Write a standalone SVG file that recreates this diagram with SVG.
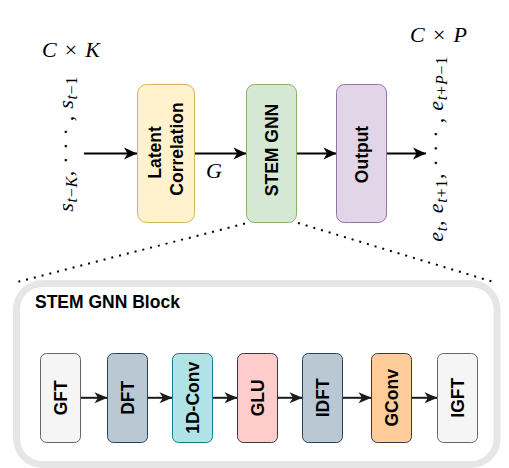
<svg xmlns="http://www.w3.org/2000/svg" width="509" height="468" viewBox="0 0 509 468">
<defs>
<style>
.lbl{font-family:"Liberation Sans",Arial,sans-serif;font-weight:bold;font-size:17.5px;text-anchor:middle;fill:#000}
.math{font-family:"Liberation Serif","Times New Roman",serif;font-size:22px;fill:#000}
.it{font-style:italic}
.sub{font-size:16px}
.arr{stroke:#000;stroke-width:2;fill:none}
.arrb{stroke:#1a1a1a;stroke-width:2;fill:none}
.dot{stroke:#000;stroke-width:2;stroke-dasharray:2 6;fill:none}
</style>
<marker id="ah" markerUnits="userSpaceOnUse" markerWidth="15" markerHeight="13" viewBox="0 0 15 13" refX="14" refY="6.5" orient="auto">
<path d="M1,0.5 L14,6.5 L1,12.5 L4.5,6.5 Z" fill="#000"/>
</marker>
<marker id="ahb" markerUnits="userSpaceOnUse" markerWidth="15" markerHeight="13" viewBox="0 0 15 13" refX="14" refY="6.5" orient="auto">
<path d="M1,1 L14,6.5 L1,12 L4.5,6.5 Z" fill="#1a1a1a"/>
</marker>
</defs>

<g id="block">
<rect x="16.5" y="283.5" width="480.5" height="181" rx="26" fill="#fff" stroke="#e6e6e6" stroke-width="7"/>
<text x="35" y="308" font-family="'Liberation Sans',Arial,sans-serif" font-weight="bold" font-size="17.5">STEM GNN Block</text>
</g>

<g id="connectors">
<line class="arr" x1="84" y1="153.5" x2="137" y2="153.5" marker-end="url(#ah)"/>
<line class="arr" x1="194.5" y1="153.5" x2="246.5" y2="153.5" marker-end="url(#ah)"/>
<line class="arr" x1="296.5" y1="153.5" x2="336.5" y2="153.5" marker-end="url(#ah)"/>
<line class="arr" x1="386.5" y1="153.5" x2="426" y2="153.5" marker-end="url(#ah)"/>
<line class="dot" x1="245" y1="223.5" x2="17" y2="282"/>
<line class="dot" x1="298" y1="223" x2="497" y2="283"/>
<line class="arrb" x1="80.5" y1="397.8" x2="107.5" y2="397.8" marker-end="url(#ahb)"/>
<line class="arrb" x1="147.5" y1="397.8" x2="172.5" y2="397.8" marker-end="url(#ahb)"/>
<line class="arrb" x1="212.5" y1="397.8" x2="237.5" y2="397.8" marker-end="url(#ahb)"/>
<line class="arrb" x1="277.5" y1="397.8" x2="302.5" y2="397.8" marker-end="url(#ahb)"/>
<line class="arrb" x1="342.5" y1="397.8" x2="371.5" y2="397.8" marker-end="url(#ahb)"/>
<line class="arrb" x1="411.5" y1="397.8" x2="437.5" y2="397.8" marker-end="url(#ahb)"/>
</g>

<g id="latent">
<rect x="137.5" y="84.5" width="57" height="138" rx="9" fill="#fff2cc" stroke="#d6b656"/>
<text class="lbl" transform="translate(165.5,152.5) rotate(-90)" y="-4.5">Latent</text>
<text class="lbl" transform="translate(165.5,149) rotate(-90)" y="17">Correlation</text>
</g>
<g id="stemgnn">
<rect x="246.5" y="84.5" width="50" height="138" rx="8" fill="#d5e8d4" stroke="#82b366"/>
<text class="lbl" transform="translate(272,150) rotate(-90)" y="6.3">STEM GNN</text>
</g>
<g id="output">
<rect x="336.5" y="84.5" width="50" height="138" rx="8" fill="#e1d5e7" stroke="#9673a6"/>
<text class="lbl" transform="translate(361.5,154.5) rotate(-90)" y="6.3">Output</text>
</g>

<g id="labels">
<text class="math" x="42" y="56.5" textLength="58"><tspan class="it">C</tspan> × <tspan class="it">K</tspan></text>
<text class="math" x="410" y="41.5" textLength="57"><tspan class="it">C</tspan> × <tspan class="it">P</tspan></text>
<text class="math it" x="206" y="178">G</text>
<text class="math" transform="translate(73.3,211.7) rotate(-90)" textLength="135"><tspan class="it">s</tspan><tspan class="sub it" dy="4">t</tspan><tspan class="sub">−</tspan><tspan class="sub it">K</tspan><tspan dy="-4">, · · · , </tspan><tspan class="it">s</tspan><tspan class="sub it" dy="4">t</tspan><tspan class="sub">−1</tspan></text>
<text class="math" transform="translate(443.3,241.7) rotate(-90)" textLength="185"><tspan class="it">e</tspan><tspan class="sub it" dy="4">t</tspan><tspan dy="-4">, </tspan><tspan class="it">e</tspan><tspan class="sub it" dy="4">t</tspan><tspan class="sub">+1</tspan><tspan dy="-4">, · · · , </tspan><tspan class="it">e</tspan><tspan class="sub it" dy="4">t</tspan><tspan class="sub">+</tspan><tspan class="sub it">P</tspan><tspan class="sub">−1</tspan></text>
</g>

<g id="gft">
<rect x="40.5" y="353.5" width="40" height="89" rx="6" fill="#f5f5f5" stroke="#666666"/>
<text class="lbl" transform="translate(60.5,397.8) rotate(-90)" y="6.3">GFT</text>
</g>
<g id="dft">
<rect x="107.5" y="353.5" width="40" height="89" rx="6" fill="#bac8d3" stroke="#23445d"/>
<text class="lbl" transform="translate(127.5,397.8) rotate(-90)" y="6.3">DFT</text>
</g>
<g id="conv1d">
<rect x="172.5" y="353.5" width="40" height="89" rx="6" fill="#b0e3e6" stroke="#0e8088"/>
<text class="lbl" transform="translate(192.5,397.8) rotate(-90)" y="6.3">1D-Conv</text>
</g>
<g id="glu">
<rect x="237.5" y="353.5" width="40" height="89" rx="6" fill="#ffcccc" stroke="#36393d"/>
<text class="lbl" transform="translate(257.5,397.8) rotate(-90)" y="6.3">GLU</text>
</g>
<g id="idft">
<rect x="302.5" y="353.5" width="40" height="89" rx="6" fill="#bac8d3" stroke="#23445d"/>
<text class="lbl" transform="translate(322.5,397.8) rotate(-90)" y="6.3">IDFT</text>
</g>
<g id="gconv">
<rect x="371.5" y="353.5" width="40" height="89" rx="6" fill="#ffcc99" stroke="#36393d"/>
<text class="lbl" transform="translate(391.5,397.8) rotate(-90)" y="6.3">GConv</text>
</g>
<g id="igft">
<rect x="437.5" y="353.5" width="40" height="89" rx="6" fill="#f5f5f5" stroke="#666666"/>
<text class="lbl" transform="translate(457.5,397.8) rotate(-90)" y="6.3">IGFT</text>
</g>
</svg>
